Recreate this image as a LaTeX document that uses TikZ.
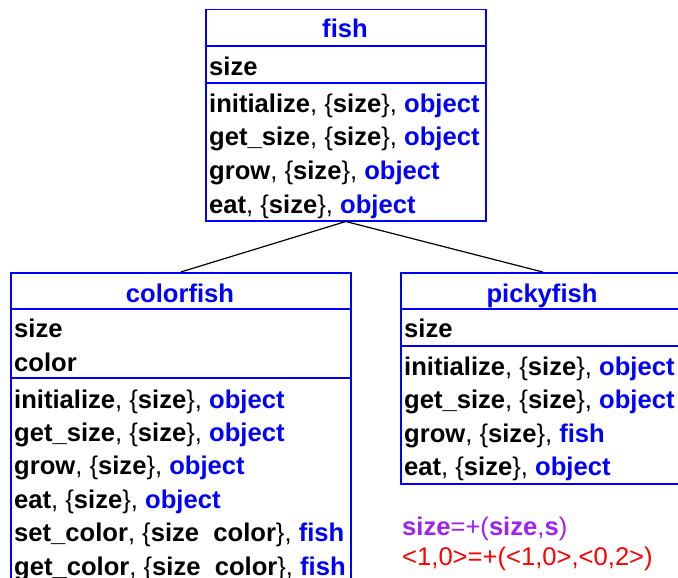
\documentclass[tikz,border=0pt]{standalone}
\usepackage{fontspec}
\setmainfont{Liberation Sans}
\definecolor{umlblue}{RGB}{0,0,255}
\definecolor{umlpurple}{RGB}{160,32,240}
\definecolor{umlred}{RGB}{255,0,0}
\newcommand\clsb[1]{\textbf{#1}}
\newcommand\clst[1]{\textcolor{umlblue}{\textbf{#1}}}
\begin{document}
\begin{tikzpicture}[x=1pt,y=-1pt,
  box/.style={draw=umlblue, line width=1.5pt, rectangle, inner sep=0pt, anchor=north west},
  sep/.style={draw=umlblue, line width=1.5pt},
  txt/.style={anchor=base west, inner sep=0pt, font=\fontsize{25.6}{30}\selectfont},
  ttl/.style={anchor=base, inner sep=0pt, font=\fontsize{25.6}{30}\selectfont\bfseries, text=umlblue},
  link/.style={draw=black, line width=1.2pt}]
\useasboundingbox (0,0) rectangle (678,578);
\clip (0,0) rectangle (678,578);

% fish
\node[box, minimum width=280pt, minimum height=211pt] (fish) at (205,9) {};
\draw[sep] (205,46) -- (485,46);
\draw[sep] (205,83) -- (485,83);
\node[ttl] (fishT) at (345,38) {fish};
\node[txt] (fishA1) at (209,75.5) {\clsb{size}};
\node[txt] (fishM1) at (209,112.5) {\clsb{initialize}, \{\clsb{size}\}, \clst{object}};
\node[txt] (fishM2) at (209,146) {\clsb{get\_size}, \{\clsb{size}\}, \clst{object}};
\node[txt] (fishM3) at (209,179.5) {\clsb{grow}, \{\clsb{size}\}, \clst{object}};
\node[txt] (fishM4) at (209,213) {\clsb{eat}, \{\clsb{size}\}, \clst{object}};

% colorfish
\node[box, minimum width=340pt, minimum height=330pt] (colorfish) at (10,272) {};
\draw[sep] (10,309) -- (350,309);
\draw[sep] (10,378) -- (350,378);
\node[ttl] (colorT) at (180,302) {colorfish};
\node[txt] (colorA1) at (14,337) {\clsb{size}};
\node[txt] (colorA2) at (14,371) {\clsb{color}};
\node[txt] (colorM1) at (14,408) {\clsb{initialize}, \{\clsb{size}\}, \clst{object}};
\node[txt] (colorM2) at (14,441) {\clsb{get\_size}, \{\clsb{size}\}, \clst{object}};
\node[txt] (colorM3) at (14,474.5) {\clsb{grow}, \{\clsb{size}\}, \clst{object}};
\node[txt] (colorM4) at (14,508) {\clsb{eat}, \{\clsb{size}\}, \clst{object}};
\node[txt] (colorM5) at (14,541.5) {\clsb{set\_color}, \{\clsb{size~~color}\}, \clst{fish}};
\node[txt] (colorM6) at (14,575) {\clsb{get\_color}, \{\clsb{size~~color}\}, \clst{fish}};

% pickyfish
\node[box, minimum width=284pt, minimum height=211pt] (pickyfish) at (400,272) {};
\draw[sep] (400,309) -- (684,309);
\draw[sep] (400,346) -- (684,346);
\node[ttl] (pickyT) at (542,302.5) {pickyfish};
\node[txt] (pickyA1) at (404,337.5) {\clsb{size}};
\node[txt] (pickyM1) at (404,375) {\clsb{initialize}, \{\clsb{size}\}, \clst{object}};
\node[txt] (pickyM2) at (404,408.5) {\clsb{get\_size}, \{\clsb{size}\}, \clst{object}};
\node[txt] (pickyM3) at (404,442) {\clsb{grow}, \{\clsb{size}\}, \clst{fish}};
\node[txt] (pickyM4) at (404,475.5) {\clsb{eat}, \{\clsb{size}\}, \clst{object}};

% formulas
\node[txt, text=umlpurple] (form1) at (402,535) {\clsb{size}=+(\clsb{size},\clsb{s})};
\node[txt, text=umlred] (form2) at (402,565) {<1,0>=+(<1,0>,<0,2>)};

% links
\draw[link] (fish.south) -- (colorfish.north);
\draw[link] (fish.south) -- (pickyfish.north);
\end{tikzpicture}
\end{document}
